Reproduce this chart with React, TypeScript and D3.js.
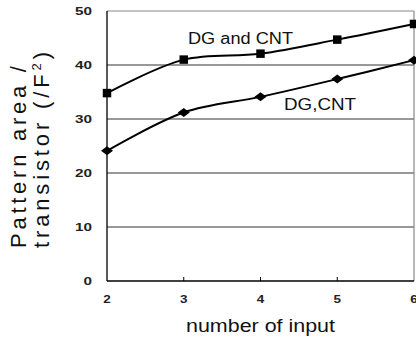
import React from 'react';
import * as d3 from 'd3';

const width = 416;
const height = 339;
const margin = { top: 11, right: 2, bottom: 58, left: 107 };

const inputs = [2, 3, 4, 5, 6];
const dgAndCnt = [34.8, 41.0, 42.1, 44.7, 47.6];
const dgCnt = [24.1, 31.2, 34.1, 37.4, 40.9];
const yTicks = [0, 10, 20, 30, 40, 50];

const font = '"Liberation Sans", Arial, Helvetica, sans-serif';

export default function App() {
  const x = d3.scaleLinear().domain([2, 6]).range([margin.left, width - margin.right]);
  const y = d3.scaleLinear().domain([0, 50]).range([height - margin.bottom, margin.top]);

  const line = d3
    .line<number>()
    .x((_, i) => x(inputs[i]))
    .y(d => y(d))
    .curve(d3.curveCatmullRom.alpha(0.5));

  const square = d3.symbol().type(d3.symbolSquare).size(72)();
  const x0 = x(2);
  const x1 = x(6);

  return (
    <svg
      width={width}
      height={height}
      style={{ position: 'absolute', left: 0, top: 0, background: '#fff' }}
    >
      {/* grid lines */}
      {yTicks.slice(1, -1).map(t => (
        <line key={t} x1={x0} x2={x1} y1={y(t)} y2={y(t)} stroke="#333" strokeWidth={1} />
      ))}
      {/* top and right frame */}
      <line x1={x0} x2={x1} y1={y(50)} y2={y(50)} stroke="#888" strokeWidth={1} />
      <line x1={x1} x2={x1} y1={y(50)} y2={y(0)} stroke="#888" strokeWidth={1.2} />

      {/* axes */}
      <line x1={x0} x2={x0} y1={y(50)} y2={y(0)} stroke="#000" strokeWidth={1.3} />
      <line x1={x0} x2={x1} y1={y(0)} y2={y(0)} stroke="#000" strokeWidth={1.3} />
      {inputs.slice(1, -1).map(v => (
        <line key={v} x1={x(v)} x2={x(v)} y1={y(0)} y2={y(0) - 4} stroke="#000" strokeWidth={1} />
      ))}

      {/* y tick labels */}
      {yTicks.map(t => (
        <text
          key={t}
          x={92}
          y={y(t)}
          dy="0.36em"
          textAnchor="end"
          fontFamily={font}
          fontSize={11.5}
          fontWeight="bold"
          fill="#222"
          textLength={String(t).length > 1 ? 17 : 8.5}
          lengthAdjust="spacingAndGlyphs"
        >
          {t}
        </text>
      ))}
      {/* x tick labels */}
      {inputs.map(v => (
        <text
          key={v}
          x={x(v)}
          y={303}
          textAnchor="middle"
          fontFamily={font}
          fontSize={11}
          fontWeight="bold"
          fill="#222"
          textLength={7.5}
          lengthAdjust="spacingAndGlyphs"
        >
          {v}
        </text>
      ))}

      {/* series */}
      <path d={line(dgAndCnt) || ''} fill="none" stroke="#000" strokeWidth={2} />
      <path d={line(dgCnt) || ''} fill="none" stroke="#000" strokeWidth={2} />
      {dgAndCnt.map((v, i) => (
        <path key={i} d={square || ''} transform={`translate(${x(inputs[i])},${y(v)})`} fill="#000" />
      ))}
      {dgCnt.map((v, i) => (
        <path
          key={i}
          d="M0,-4.5L6,0L0,4.5L-6,0Z"
          transform={`translate(${x(inputs[i])},${y(v)})`}
          fill="#000"
        />
      ))}

      {/* series labels */}
      <text
        x={188}
        y={44}
        fontFamily={font}
        fontSize={16}
        fill="#111"
        textLength={105}
        lengthAdjust="spacingAndGlyphs"
      >
        DG and CNT
      </text>
      <text
        x={284}
        y={110}
        fontFamily={font}
        fontSize={16}
        fill="#111"
        textLength={72}
        lengthAdjust="spacingAndGlyphs"
      >
        DG,CNT
      </text>

      {/* axis titles */}
      <text
        transform="translate(26,248) rotate(-90)"
        fontFamily={font}
        fontSize={22}
        fill="#111"
        textLength={182}
        lengthAdjust="spacing"
      >
        Pattern area /
      </text>
      <text
        transform="translate(48.5,248) rotate(-90)"
        fontFamily={font}
        fontSize={22}
        fill="#111"
        textLength={196}
        lengthAdjust="spacing"
      >
        transistor (/F<tspan dy={-8} fontSize={13}>2</tspan>
        <tspan dy={8}>)</tspan>
      </text>
      <text
        x={186}
        y={332}
        fontFamily={font}
        fontSize={18}
        fill="#111"
        textLength={149}
        lengthAdjust="spacingAndGlyphs"
      >
        number of input
      </text>
    </svg>
  );
}
